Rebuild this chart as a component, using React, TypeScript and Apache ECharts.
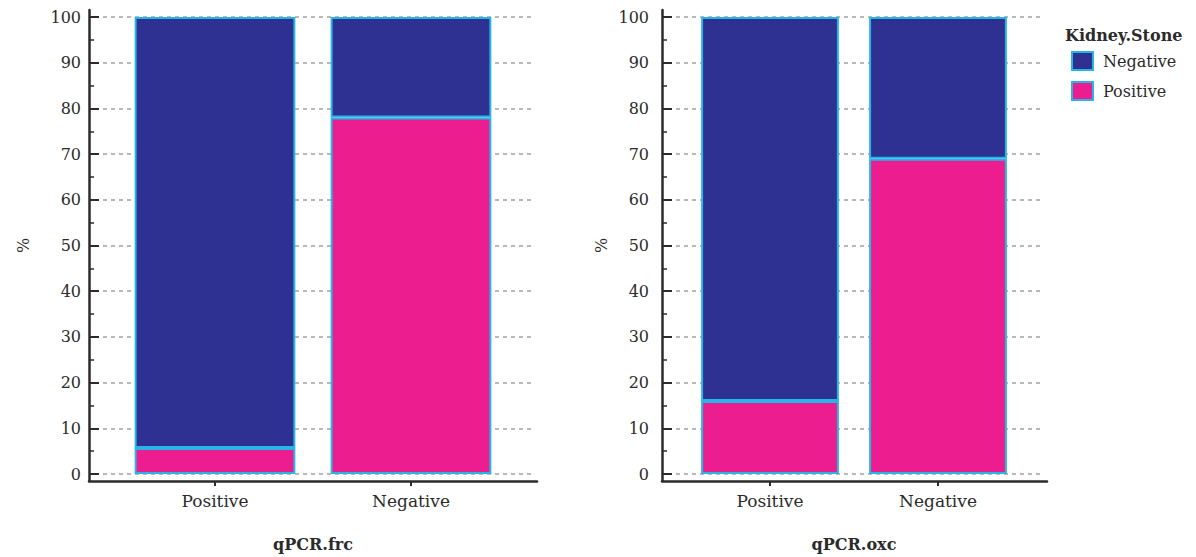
import React, { useEffect, useRef } from "react";
import * as echarts from "echarts";

const categories = ["Positive", "Negative"];
const legendItems = ["Negative", "Positive"];
const frcPositive = [5.7, 78];
const frcNegative = [94.3, 22];
const oxcPositive = [16, 69];
const oxcNegative = [84, 31];
const panelTitles = ["qPCR.frc", "qPCR.oxc"];
const legendTitle = "Kidney.Stone";

const NAVY = "#2E3192";
const PINK = "#EC1E8F";
const CYAN = "#27B4E6";
const INK = "#2b2b2b";
const FONT = "DejaVu Serif";

function App() {
  const ref = useRef<HTMLDivElement>(null);
  useEffect(() => {
    if (!ref.current) return;
    const chart = echarts.init(ref.current, null, { renderer: "svg" });

    const panels = [
      { pos: frcPositive, neg: frcNegative, title: panelTitles[0], outer: { left: 89, width: 448 }, mid: { left: 95, width: 436 }, bars: { left: 117, width: 392 }, labelMargin: 8, nameGap: 58 },
      { pos: oxcPositive, neg: oxcNegative, title: panelTitles[1], outer: { left: 662, width: 385 }, mid: { left: 668, width: 373 }, bars: { left: 686, width: 336 }, labelMargin: 13, nameGap: 53 },
    ];

    const grid: any[] = [];
    const xAxis: any[] = [];
    const yAxis: any[] = [];
    const series: any[] = [];
    const hidden = {
      axisLine: { show: false }, axisTick: { show: false }, axisLabel: { show: false }, splitLine: { show: false },
    };

    panels.forEach((p, k) => {
      // outer frame: axis lines only
      const o = grid.length;
      grid.push({ left: p.outer.left, top: 10, width: p.outer.width, height: 471 });
      xAxis.push({
        gridIndex: o, type: "value", min: 0, max: 1,
        ...hidden,
        axisLine: { show: true, onZero: false, lineStyle: { color: INK, width: 2.5 } },
      });
      yAxis.push({
        gridIndex: o, type: "value", min: 0, max: 1,
        ...hidden,
        axisLine: { show: true, onZero: false, lineStyle: { color: INK, width: 2.5 } },
      });

      // middle: y ticks, labels, grid lines
      const m = grid.length;
      grid.push({ left: p.mid.left, top: 17, width: p.mid.width, height: 457 });
      xAxis.push({ gridIndex: m, type: "value", min: 0, max: 1, ...hidden });
      yAxis.push({
        gridIndex: m, type: "value", min: 0, max: 100, interval: 10, offset: 6,
        axisLine: { show: false, onZero: false },
        axisTick: { show: true, inside: true, length: 10, lineStyle: { color: INK, width: 2 } },
        minorTick: { show: true, splitNumber: 2, length: 5, lineStyle: { color: INK, width: 1.5 } },
        axisLabel: { show: true, margin: p.labelMargin, color: INK, fontFamily: FONT, fontSize: 16 },
        splitLine: { show: true, lineStyle: { color: "#a3a3a3", width: 1.5, type: [4, 4] } },
        name: "%", nameLocation: "middle", nameGap: p.nameGap, nameRotate: 90,
        nameTextStyle: { color: INK, fontFamily: FONT, fontSize: 16 },
      });

      // bars: category axis
      const b = grid.length;
      grid.push({ left: p.bars.left, top: 17, width: p.bars.width, height: 457 });
      xAxis.push({
        gridIndex: b, type: "category", data: categories, offset: 7,
        axisLine: { show: false, onZero: false },
        axisTick: { show: true, alignWithLabel: true, length: 5, lineStyle: { color: INK, width: 2 } },
        axisLabel: { show: true, margin: 11, color: INK, fontFamily: FONT, fontSize: 17 },
        splitLine: { show: false },
        name: p.title, nameLocation: "middle", nameGap: 55,
        nameTextStyle: { color: INK, fontFamily: FONT, fontSize: 16, fontWeight: "bold" },
      });
      yAxis.push({ gridIndex: b, type: "value", min: 0, max: 100, ...hidden });

      const mk = (name: string, vals: number[], color: string) => ({
        type: "bar", name, stack: "s" + k,
        xAxisIndex: b, yAxisIndex: b,
        barWidth: "82%",
        data: vals,
        itemStyle: { color, borderColor: CYAN, borderWidth: 2 },
        emphasis: { disabled: true },
      });
      series.push(mk("Positive", p.pos, PINK));
      series.push(mk("Negative", p.neg, NAVY));
    });

    chart.setOption({
      animation: false,
      backgroundColor: "#ffffff",
      title: {
        text: legendTitle, left: 1060, top: 22,
        textStyle: { color: INK, fontFamily: FONT, fontSize: 16, fontWeight: "bold" },
      },
      legend: {
        orient: "vertical", left: 1066, top: 46,
        itemWidth: 21, itemHeight: 18, itemGap: 10,
        data: legendItems.map((n) => ({ name: n, icon: "rect", itemStyle: { color: n === "Positive" ? PINK : NAVY, borderColor: CYAN, borderWidth: 2 } })),
        textStyle: { color: INK, fontFamily: FONT, fontSize: 16, padding: [0, 0, 0, 5] },
        selectedMode: false,
      },
      grid, xAxis, yAxis, series,
    });

    return () => chart.dispose();
  }, []);

  return (
    <div
      ref={ref}
      style={{ position: "fixed", left: 0, top: 0, width: 1196, height: 557, background: "#fff" }}
    />
  );
}

export default App;
